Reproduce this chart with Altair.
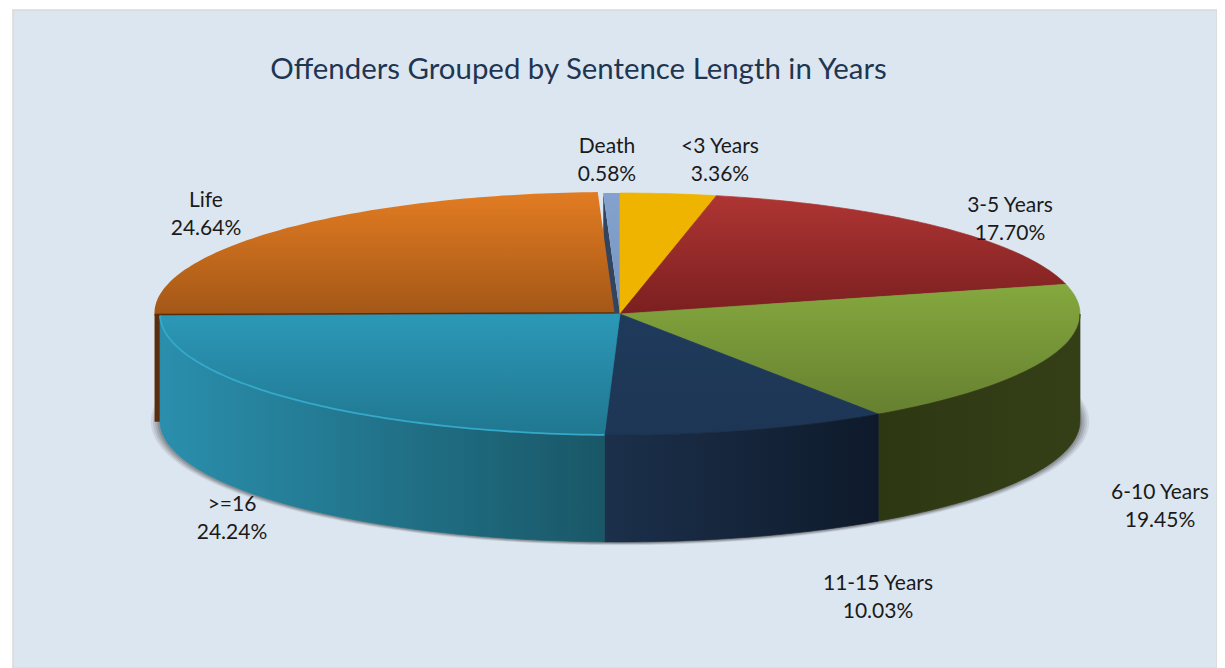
import math
import altair as alt
import pandas as pd

categories = ["<3 Years", "3-5 Years", "6-10 Years", "11-15 Years", ">=16", "Life", "Death"]
shares = [3.36, 17.70, 19.45, 10.03, 24.24, 24.64, 0.58]
title_text = "Offenders Grouped by Sentence Length in Years"

# page geometry of the tilted pie, in pixels
CX, CY, RX, RY, DEPTH = 620.0, 314.0, 460.0, 121.0, 107.0
LEFT, TOP, RIGHT, BOTTOM = 13.0, 10.0, 1217.0, 668.0
LIFT = {"Life": (-5.5, -1.0)}   # the exploded slice

top_grad = {
    "<3 Years": ("#EFB400", "#EFB400"),
    "3-5 Years": ("#AE3533", "#7B1F20"),
    "6-10 Years": ("#85A83E", "#668030"),
    "11-15 Years": ("#1F3A5B", "#1E3655"),
    ">=16": ("#2C98B8", "#207790"),
    "Life": ("#E27C22", "#A35717"),
    "Death": ("#84A2CD", "#7595C3"),
}
wall_grad = {
    "6-10 Years": ("#2D3813", "#353F17"),
    "11-15 Years": ("#1C304B", "#0E1A2B"),
    ">=16": ("#2A8FAD", "#195767"),
}
label_pos = {
    "<3 Years": (720, 146.5), "3-5 Years": (1010, 205.5), "6-10 Years": (1160, 492.5),
    "11-15 Years": (878, 583.5), ">=16": (232, 504.5), "Life": (206, 200.5), "Death": (607, 146.5),
}

def ux(px):
    return (px - CX) / RX

def uy(py):
    return (CY - py) / RY

def ellipse_pts(a, b, dx=0.0, dy=0.0, dz=0.0, scale=1.0):
    """points of the rim from angle a to b (degrees, clockwise from the top)"""
    n = max(2, int(abs(b - a)) + 2)
    out = []
    for i in range(n):
        t = math.radians(a + (b - a) * i / (n - 1))
        out.append((math.sin(t) * scale + dx / RX, math.cos(t) * scale - dy / RY - dz / RY))
    return out

def frame(pts):
    return pd.DataFrame({"x": [p[0] for p in pts], "y": [p[1] for p in pts], "step": list(range(len(pts)))})

x_enc = alt.X("x:Q", axis=None, scale=alt.Scale(domain=[ux(LEFT), ux(RIGHT)], nice=False, zero=False))
y_enc = alt.Y("y:Q", axis=None, scale=alt.Scale(domain=[uy(BOTTOM), uy(TOP)], nice=False, zero=False))

def grad(c1, c2, horizontal=False):
    return {
        "gradient": "linear",
        "x1": 0, "y1": 0,
        "x2": 1 if horizontal else 0, "y2": 0 if horizontal else 1,
        "stops": [{"offset": 0, "color": c1}, {"offset": 1, "color": c2}],
    }

def poly(pts, fill, stroke=None, opacity=1.0, sw=0.7):
    return alt.Chart(frame(pts)).mark_line(
        fill=fill, stroke=stroke or "transparent", strokeWidth=sw,
        interpolate="linear-closed", opacity=opacity,
    ).encode(x=x_enc, y=y_enc, order=alt.Order("step:Q"))

def path(pts, color, sw, opacity=1.0):
    return alt.Chart(frame(pts)).mark_line(color=color, strokeWidth=sw, opacity=opacity).encode(
        x=x_enc, y=y_enc, order=alt.Order("step:Q"))

# angles from the shares
angles = {}
run = 0.0
for c, s in zip(categories, shares):
    angles[c] = (run * 3.6, (run + s) * 3.6)
    run += s

layers = []

# soft shadow under the pie
for scale, op in [(1.020, 0.10), (1.015, 0.14), (1.010, 0.18), (1.005, 0.24)]:
    layers.append(poly(ellipse_pts(0, 360, dz=DEPTH + 0.8, scale=scale), "#4A4A4A", opacity=op))

# radial face of the Death slice, seen through the gap
a, _ = angles["Death"]
d0 = ellipse_pts(a, a)[0]
layers.append(poly([d0, (0, 0), (0, -DEPTH / RY), (d0[0], d0[1] - DEPTH / RY)], "#33445F"))

# Life: radial face then top
a, b = angles["Life"]
dx, dy = LIFT["Life"]
rim0 = ellipse_pts(a, a, dx, dy)[0]
ctr = (dx / RX, -dy / RY)
layers.append(poly([rim0, ctr, (ctr[0], ctr[1] - DEPTH / RY), (rim0[0], rim0[1] - DEPTH / RY)], "#5A2E0C"))
layers.append(poly(ellipse_pts(a, b, dx, dy) + [ctr], grad(*top_grad["Life"])))
layers.append(path([rim0, ctr], "#5A2E0C", 1.6))

# the other tops
for c in ["Death", "<3 Years", "3-5 Years", "6-10 Years", "11-15 Years", ">=16"]:
    a, b = angles[c]
    g = grad(*top_grad[c])
    layers.append(poly(ellipse_pts(a, b) + [(0, 0)], g, stroke=g if c != "Death" else None))

# front walls
for c in ["6-10 Years", "11-15 Years", ">=16"]:
    a, b = angles[c]
    a2, b2 = max(a, 90.0), min(b, 270.0)
    rim = ellipse_pts(a2, b2)
    low = ellipse_pts(b2, a2, dz=DEPTH)
    g = grad(*wall_grad[c], horizontal=True)
    layers.append(poly(rim + low, g, stroke=g))

# rim highlight along the blue slice
a, b = angles[">=16"]
layers.append(path(ellipse_pts(a, b), "#35A9CA", 1.8))

# labels
rows = []
for c, s in zip(categories, shares):
    px, py = label_pos[c]
    rows.append({"x": ux(px), "y": uy(py), "t": c})
    rows.append({"x": ux(px), "y": uy(py + 28.5), "t": f"{s:.2f}%"})
labels = alt.Chart(pd.DataFrame(rows)).mark_text(
    font="Lato", fontSize=21, color="#1A1A1A", align="center", baseline="middle"
).encode(x=x_enc, y=y_enc, text="t:N")
layers.append(labels)

title = alt.Chart(pd.DataFrame({"x": [ux(578.5)], "y": [uy(69.5)], "t": [title_text]})).mark_text(
    font="Lato", fontSize=29.4, color="#1F3550", align="center", baseline="middle"
).encode(x=x_enc, y=y_enc, text="t:N")
layers.append(title)

chart = alt.layer(*layers).properties(
    width=RIGHT - LEFT, height=BOTTOM - TOP,
    padding={"left": 5, "top": 2, "right": 0, "bottom": 0},
    background="#FFFFFF",
).configure_view(fill="#DCE6F1", stroke="#D9D9D9", strokeWidth=1.5)

chart.save("out.html", embed_options={"renderer": "svg", "actions": False})
